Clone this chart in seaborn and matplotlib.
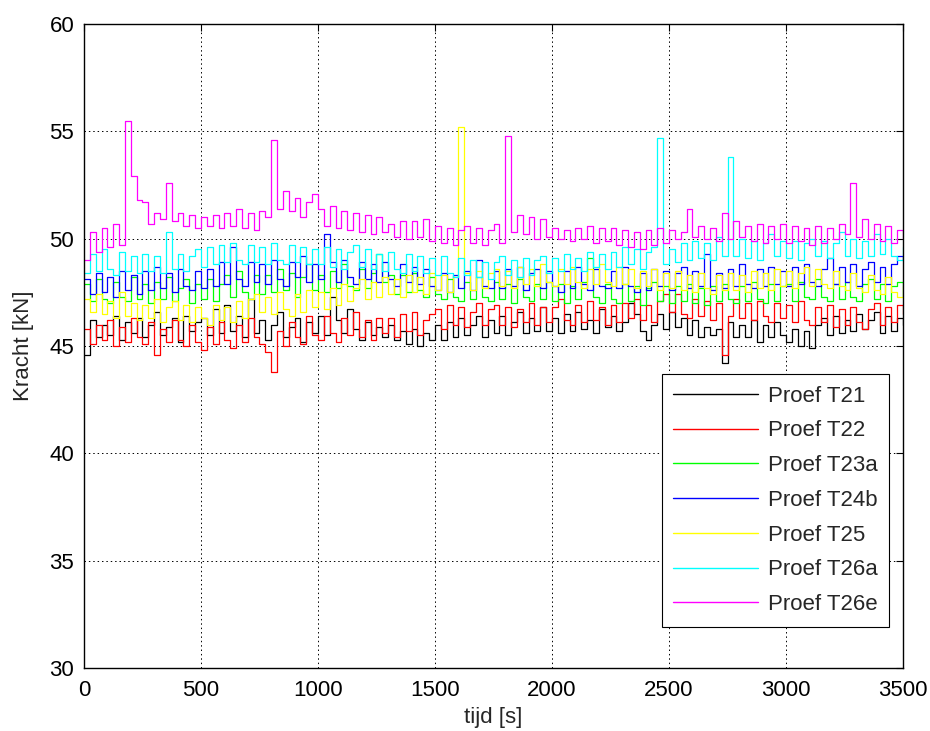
import numpy as np
import pandas as pd
import matplotlib
matplotlib.use("Agg")
import matplotlib.pyplot as plt
import seaborn as sns

# tijd-as, monsters om de 25 s
tijd = np.arange(0, 3501, 25)

proef_t21 = [
    44.6, 46.2, 45.4, 46.0, 45.5, 46.4, 45.3, 46.1, 45.6, 46.3,
    45.4, 46.0, 46.6, 45.5, 45.9, 46.3, 45.2, 46.4, 45.7, 46.1,
    46.3, 45.5, 46.7, 45.6, 46.9, 45.7, 46.4, 45.4, 47.2, 45.6,
    46.2, 45.3, 46.0, 46.6, 45.4, 45.9, 46.3, 45.2, 46.1, 45.6,
    46.4, 45.5, 47.3, 46.2, 45.6, 46.7, 45.8, 45.3, 46.1, 45.5,
    45.9, 45.4, 46.0, 45.3, 45.7, 45.1, 45.8, 45.0, 45.6, 45.3,
    46.0, 45.3, 46.1, 45.4, 46.3, 45.5, 46.0, 46.4, 45.4, 46.2,
    45.6, 46.4, 45.5, 46.1, 46.6, 45.6, 46.3, 45.7, 46.8, 45.7,
    46.3, 45.6, 46.5, 45.7, 46.6, 45.8, 46.2, 45.6, 46.7, 45.9,
    46.4, 45.7, 46.1, 47.0, 46.5, 45.7, 45.3, 46.0, 46.5, 45.8,
    46.6, 45.9, 46.3, 45.5, 46.2, 45.4, 45.9, 45.5, 45.8, 44.2,
    46.1, 45.4, 46.0, 45.4, 46.2, 45.2, 46.0, 45.4, 46.1, 45.5,
    45.2, 45.8, 45.0, 45.7, 44.9, 46.0, 46.3, 45.5, 46.4, 45.6,
    46.2, 45.7, 46.5, 45.8, 46.2, 46.6, 45.6, 46.4, 45.7, 46.3,
    46.0,
]

proef_t22 = [
    45.8, 45.1, 46.0, 45.3, 46.2, 45.0, 45.9, 45.2, 46.3, 45.4,
    45.1, 46.1, 44.6, 45.8, 45.2, 46.2, 45.3, 45.0, 46.0, 45.2,
    44.8, 45.9, 45.1, 46.1, 45.3, 44.9, 46.0, 45.2, 46.3, 45.4,
    45.1, 44.7, 43.8, 45.7, 45.0, 46.1, 45.4, 45.1, 46.4, 45.5,
    45.3, 46.4, 45.6, 45.2, 46.3, 45.5, 46.6, 45.4, 46.2, 45.3,
    46.3, 45.6, 46.3, 45.4, 46.5, 45.7, 46.6, 45.5, 46.2, 46.5,
    46.7, 45.8, 46.9, 46.0, 46.8, 45.9, 46.6, 47.0, 46.0, 46.7,
    46.9, 46.0, 46.8, 45.9, 46.7, 46.1, 47.0, 46.0, 46.8, 46.1,
    46.8, 47.2, 46.2, 46.0, 46.9, 46.1, 47.1, 46.2, 46.8, 46.0,
    46.9, 46.1, 47.0, 46.3, 47.2, 46.2, 46.9, 46.1, 47.1, 47.4,
    46.6, 47.4, 46.5, 46.3, 47.2, 46.4, 47.1, 46.2, 47.0, 44.6,
    46.4, 47.2, 46.3, 47.0, 46.2, 47.1, 46.4, 46.1, 47.0, 46.3,
    46.9, 46.1, 47.1, 46.2, 46.0, 46.8, 46.1, 46.9, 45.9, 46.7,
    46.0, 46.8, 46.1, 45.8, 46.7, 47.0, 46.0, 46.8, 46.1, 46.9,
    46.5,
]

proef_t23a = [
    47.9, 47.1, 48.1, 47.2, 47.0, 48.0, 47.3, 47.1, 48.2, 47.2,
    47.9, 47.0, 48.0, 47.2, 48.2, 47.1, 47.7, 48.1, 47.0, 47.9,
    47.2, 48.1, 47.1, 47.9, 48.3, 47.3, 48.5, 47.5, 47.2, 48.3,
    47.4, 48.3, 47.5, 48.6, 47.6, 48.4, 47.3, 48.2, 48.8, 47.6,
    48.3, 47.5, 48.5, 47.7, 48.8, 47.8, 47.6, 48.6, 47.7, 48.4,
    49.3, 48.0, 48.3, 47.4, 48.3, 47.5, 48.4, 47.6, 47.3, 48.2,
    47.4, 47.2, 48.1, 47.3, 47.1, 48.0, 47.2, 48.2, 47.3, 47.1,
    48.0, 47.2, 47.9, 47.0, 48.1, 47.3, 47.1, 47.9, 47.2, 48.0,
    47.1, 47.9, 47.0, 47.8, 47.2, 48.0, 49.1, 47.3, 47.0, 47.9,
    47.2, 47.0, 47.9, 47.1, 47.8, 46.9, 47.7, 48.0, 47.1, 47.8,
    47.0, 47.8, 47.1, 47.9, 47.0, 47.7, 46.9, 47.8, 47.1, 47.9,
    47.2, 47.0, 47.8, 47.1, 48.0, 47.2, 47.0, 47.9, 47.1, 47.8,
    47.9, 47.1, 48.0, 47.3, 47.2, 48.1, 47.3, 47.1, 47.9, 47.2,
    48.0, 47.3, 47.1, 47.9, 48.1, 47.2, 47.9, 47.1, 47.8, 48.0,
    47.3,
]

proef_t24b = [
    48.1, 47.4, 48.4, 47.5, 48.2, 47.3, 48.5, 47.6, 48.3, 47.4,
    48.5, 47.6, 48.7, 47.7, 48.4, 47.5, 48.6, 47.8, 47.6, 48.5,
    47.7, 48.6, 47.8, 48.9, 47.9, 49.6, 48.1, 47.8, 48.9, 48.0,
    48.8, 47.9, 49.0, 48.1, 47.8, 48.9, 48.2, 49.2, 48.0, 48.8,
    48.1, 50.2, 48.9, 48.0, 49.0, 48.2, 47.9, 48.9, 48.1, 48.8,
    48.0, 48.9, 48.1, 47.8, 48.8, 48.0, 48.7, 47.9, 48.6, 47.8,
    47.6, 48.4, 47.5, 48.3, 47.7, 48.5, 47.6, 49.0, 47.8, 47.7,
    48.5, 47.7, 48.6, 47.8, 48.7, 47.6, 48.4, 48.6, 47.7, 48.5,
    47.8, 47.5, 48.5, 47.7, 48.7, 47.9, 47.6, 48.6, 47.8, 47.7,
    48.5, 47.7, 48.7, 47.8, 47.5, 48.4, 47.6, 48.6, 47.8, 48.5,
    47.6, 48.4, 48.7, 47.7, 48.5, 47.8, 49.3, 47.6, 48.4, 47.7,
    48.6, 47.8, 48.8, 47.9, 47.7, 48.6, 47.8, 48.7, 47.9, 48.5,
    47.8, 48.7, 47.9, 48.8, 48.0, 47.8, 48.6, 49.1, 47.9, 48.7,
    48.0, 48.8, 47.8, 48.6, 48.9, 48.0, 48.7, 47.9, 48.8, 49.2,
    49.0,
]

proef_t25 = [
    47.2, 46.6, 47.4, 46.5, 47.1, 46.3, 47.5, 46.4, 47.0, 46.2,
    46.9, 46.3, 47.2, 46.1, 46.8, 47.1, 46.2, 46.9, 46.1, 46.8,
    46.3, 46.0, 46.9, 46.2, 46.8, 46.1, 47.1, 46.3, 47.2, 47.4,
    46.6, 47.3, 46.5, 47.5, 46.7, 46.4, 47.4, 46.6, 47.6, 46.8,
    47.5, 46.7, 47.7, 46.9, 47.9, 47.1, 47.7, 48.1, 47.2, 48.0,
    47.3, 48.2, 47.4, 48.1, 47.3, 48.3, 47.5, 48.2, 47.4, 48.4,
    47.6, 48.3, 47.5, 48.2, 55.2, 48.4, 47.6, 48.5, 47.7, 48.4,
    48.6, 47.8, 48.5, 47.7, 48.7, 47.9, 48.6, 47.8, 48.8, 48.0,
    47.8, 48.6, 47.9, 48.7, 48.0, 47.7, 48.6, 47.9, 48.8, 48.0,
    47.8, 48.7, 47.9, 48.6, 47.7, 48.5, 47.8, 48.6, 47.6, 48.4,
    47.7, 48.5, 47.6, 48.3, 47.5, 48.4, 47.7, 47.4, 48.3, 47.6,
    48.4, 47.6, 48.3, 47.5, 48.5, 47.7, 48.4, 47.6, 48.6, 47.8,
    48.5, 47.7, 48.4, 48.7, 47.8, 48.6, 47.9, 47.7, 48.5, 47.8,
    47.6, 48.4, 47.7, 47.5, 48.3, 47.6, 47.4, 48.2, 47.5, 47.3,
    47.8,
]

proef_t26a = [
    48.4, 49.3, 48.5, 49.5, 48.6, 48.3, 49.4, 48.5, 49.2, 48.4,
    49.3, 48.5, 49.2, 48.4, 50.3, 48.6, 49.3, 48.5, 49.2, 49.5,
    48.7, 49.6, 48.8, 49.7, 48.9, 49.8, 49.0, 48.8, 49.7, 48.9,
    49.6, 48.8, 49.8, 49.0, 48.8, 49.7, 48.9, 49.6, 48.8, 49.5,
    48.8, 49.6, 48.7, 49.5, 48.6, 49.4, 49.7, 48.7, 49.5, 48.6,
    49.3, 48.5, 49.4, 48.6, 48.4, 49.3, 48.5, 49.2, 48.4, 49.1,
    48.3, 49.2, 48.4, 48.2, 49.1, 48.3, 49.0, 48.2, 48.9, 48.1,
    48.9, 49.2, 48.3, 49.0, 48.2, 49.1, 48.3, 49.0, 49.2, 48.4,
    49.1, 48.5, 49.3, 48.6, 49.1, 48.5, 49.4, 48.7, 49.3, 48.6,
    49.4, 48.7, 49.6, 48.8, 49.5, 48.6, 49.4, 49.6, 54.7, 48.8,
    49.5, 48.9, 49.8, 49.0, 49.9, 49.1, 49.8, 49.0, 50.1, 49.2,
    53.8, 49.2, 50.0, 49.1, 49.9, 49.0, 49.8, 50.2, 49.2, 49.9,
    49.1, 49.9, 49.0, 49.8, 50.0, 49.2, 49.9, 49.1, 49.8, 50.3,
    49.2, 50.0, 49.1, 49.9, 49.2, 50.2, 49.3, 50.0, 49.2, 49.0,
    49.6,
]

proef_t26e = [
    49.0, 50.3, 49.4, 50.5, 49.6, 50.7, 49.7, 55.5, 52.9, 51.8,
    51.7, 50.7, 51.2, 50.9, 52.6, 50.8, 51.2, 50.6, 51.1, 50.5,
    51.0, 50.6, 51.1, 50.5, 51.2, 50.6, 51.4, 50.5, 51.2, 50.4,
    51.3, 51.0, 54.6, 51.4, 52.2, 51.3, 51.9, 51.0, 51.7, 52.1,
    51.4, 50.6, 51.5, 50.5, 51.3, 50.4, 51.2, 50.3, 51.1, 50.2,
    51.0, 50.3, 50.7, 50.1, 50.8, 50.0, 50.8, 50.1, 50.9, 49.9,
    50.6, 49.8, 50.5, 49.7, 50.4, 50.6, 49.8, 50.5, 49.7, 50.4,
    50.7, 49.8, 54.8, 50.3, 51.1, 50.2, 51.0, 50.0, 50.9, 50.1,
    50.5, 50.0, 50.4, 49.9, 50.5, 50.0, 50.6, 49.8, 50.5, 49.9,
    50.5, 49.7, 50.4, 49.6, 50.3, 49.5, 50.4, 49.7, 50.5, 49.8,
    50.4, 50.0, 50.3, 51.4, 50.1, 50.6, 50.0, 50.5, 49.9, 51.2,
    50.0, 50.8, 50.1, 50.6, 49.9, 50.7, 49.8, 50.6, 50.0, 50.7,
    49.8, 50.6, 49.9, 50.5, 49.7, 50.6, 49.8, 50.5, 50.0, 50.7,
    50.2, 52.6, 50.1, 50.9, 50.0, 50.7, 49.9, 50.6, 49.8, 50.4,
    50.0,
]

proeven = ["Proef T21", "Proef T22", "Proef T23a", "Proef T24b",
           "Proef T25", "Proef T26a", "Proef T26e"]
kleuren = ["#000000", "#ff0000", "#00ff00", "#0000ff",
           "#ffff00", "#00ffff", "#ff00ff"]
reeksen = [proef_t21, proef_t22, proef_t23a, proef_t24b,
           proef_t25, proef_t26a, proef_t26e]

# lange tabel voor seaborn
delen = []
for naam, waarden in zip(proeven, reeksen):
    delen.append(pd.DataFrame({"tijd": tijd, "kracht": waarden, "proef": naam}))
df = pd.concat(delen, ignore_index=True)

sns.set_style("white")
plt.rcParams["font.family"] = ["Liberation Sans", "DejaVu Sans"]

fig = plt.figure(figsize=(9.3, 7.31), dpi=100)
ax = fig.add_axes([0.0903, 0.0862, 0.8807, 0.881])

sns.lineplot(
    data=df, x="tijd", y="kracht", hue="proef",
    hue_order=proeven, palette=kleuren,
    linewidth=0.9, drawstyle="steps-post", ax=ax,
)

ax.set_xlim(0, 3500)
ax.set_ylim(30, 60)
ax.set_xticks(range(0, 3501, 500))
ax.set_yticks(range(30, 61, 5))

ax.grid(True, color="black", linestyle=(0, (1.5, 3)), linewidth=0.7)
ax.tick_params(direction="in", length=5, width=0.8, top=True, right=True,
               labelsize=16, colors="black")
ax.tick_params(axis="x", pad=9)
ax.tick_params(axis="y", pad=7)

for spine in ax.spines.values():
    spine.set_color("black")
    spine.set_linewidth(1.0)

ax.set_xlabel("tijd [s]", fontsize=16, labelpad=4)
ax.set_ylabel("Kracht [kN]", fontsize=16, labelpad=11)

leg = ax.legend(loc="lower right", bbox_to_anchor=(0.983, 0.064),
                borderaxespad=0, fontsize=16, handlelength=3.8,
                handletextpad=0.45, fancybox=False, framealpha=1,
                edgecolor="black", borderpad=0.52, labelspacing=0.62)
leg.get_frame().set_linewidth(0.8)
for lijn in leg.get_lines():
    lijn.set_linewidth(1.0)

fig.savefig("out.png", dpi=100)
